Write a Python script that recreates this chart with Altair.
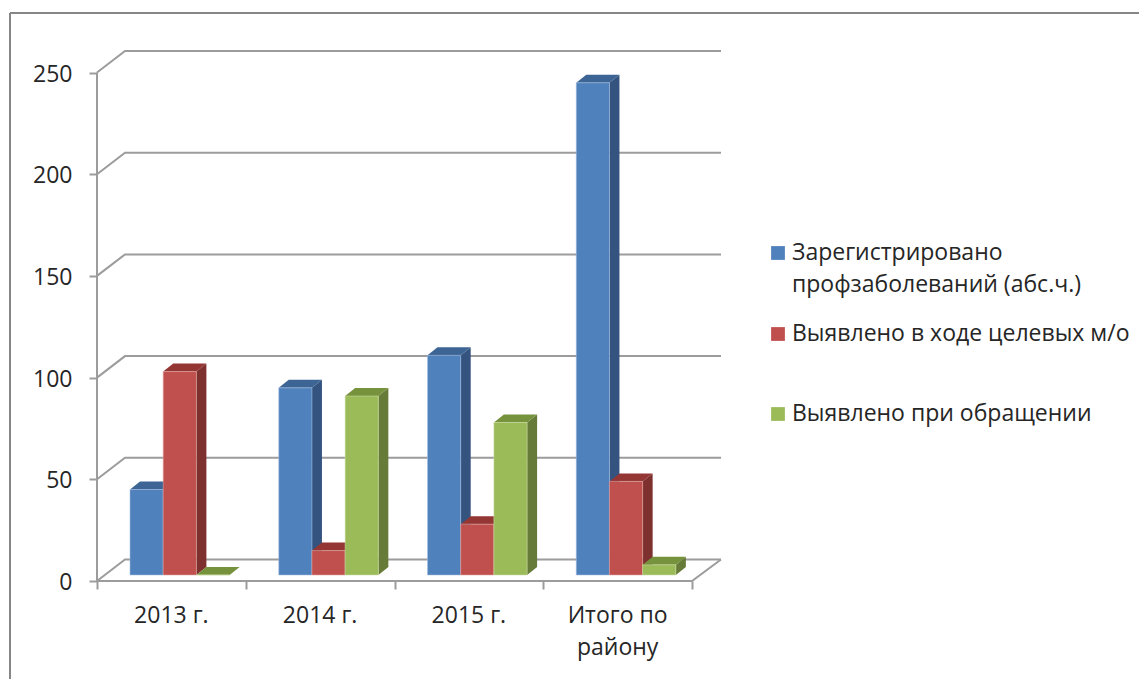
import altair as alt
import pandas as pd

categories = ["2013 г.", "2014 г.", "2015 г.", "Итого по\nрайону"]
series_names = ["Зарегистрировано\nпрофзаболеваний (абс.ч.)", "Выявлено в ходе целевых м/о", "Выявлено при обращении"]
registered = [42, 92, 108, 242]
targeted = [100, 12, 25, 46]
on_request = [0, 88, 75, 5]
y_ticks = [0, 50, 100, 150, 200, 250]
x_ticks = [0, 1, 2, 3, 4]
front = ["#4F81BD", "#C0504D", "#9BBB59"]
side = ["#34547F", "#7D302E", "#677B38"]
top = ["#3C6494", "#943634", "#76923C"]
edge = ["#A5C0E0", "#E0A8A6", "#CFE0A8"]
legend_y = [253, 334, 414]
text_font = "Open Sans"
text_size = 23
text_color = "#262626"
grid_color = "#9C9C9C"

# scale geometry
PLOT_W, PLOT_H = 624, 530
CAT_PX, VAL_PX = 148.75, 2.034
X_MAX = PLOT_W / CAT_PX
Y_MAX = PLOT_H / VAL_PX
ORIGIN_X, ORIGIN_Y = 97, 51
to_x = lambda px: px / CAT_PX
to_y = lambda px: px / VAL_PX

x_scale = alt.Scale(domain=[0, X_MAX], range=[0, PLOT_W], nice=False, zero=False)
y_scale = alt.Scale(domain=[0, Y_MAX], nice=False, zero=False)
x_axis = alt.Axis(values=x_ticks, labels=False, domain=False, grid=False, tickSize=8,
                  tickColor=grid_color, tickWidth=2, title=None)
y_axis = alt.Axis(values=y_ticks, domain=False, grid=False, tickSize=8, tickColor=grid_color,
                  tickWidth=2, labelPadding=17, labelFont=text_font, labelFontSize=text_size,
                  labelColor=text_color, labelOffset=1.5, title=None)
X = lambda f: alt.X(f, type="quantitative", scale=x_scale, axis=x_axis, stack=None)
Y = lambda f: alt.Y(f, type="quantitative", scale=y_scale, axis=y_axis, stack=None)

# walls and floor
WALL_DX, WALL_DY = to_x(28), to_y(21.5)
grid_rows = []
for v in y_ticks:
    grid_rows += [
        {"g": v, "o": 0, "x": 0, "y": v},
        {"g": v, "o": 1, "x": WALL_DX, "y": v + WALL_DY},
        {"g": v, "o": 2, "x": X_MAX, "y": v + WALL_DY},
    ]
grid_rows += [
    {"g": -1, "o": 0, "x": X_MAX, "y": WALL_DY},
    {"g": -1, "o": 1, "x": 4, "y": 0},
    {"g": -1, "o": 2, "x": 0, "y": 0},
]
grid = alt.Chart(pd.DataFrame(grid_rows)).mark_line(color=grid_color, strokeWidth=2).encode(
    x=X("x"), y=Y("y"), detail="g:N", order="o:Q",
)
y_line = alt.Chart(pd.DataFrame({"x": [0], "y": [0], "y2": [250]})).mark_rule(color=grid_color, strokeWidth=2).encode(
    x=X("x"), y=Y("y"), y2="y2:Q"
)

# bars
GAP = to_x(33)
BAR_W = to_x(33.2)
DX, DY = to_x(10), to_y(8)
BASE = to_y(6)
layers = [grid, y_line]
for s, vals in enumerate([registered, targeted, on_request]):
    rows = []
    for c, v in enumerate(vals):
        x0 = c + GAP + s * BAR_W
        rows.append({"x0": x0, "x1": x0 + BAR_W, "y0": BASE, "y1": BASE + v, "value": v})
    d = pd.DataFrame(rows)
    side_rows, top_rows = [], []
    for i, r in d.iterrows():
        side_rows += [
            {"b": i, "x": r.x1, "y": r.y1, "y2": r.y0},
            {"b": i, "x": r.x1 + DX, "y": r.y1 + DY, "y2": r.y0 + DY},
        ]
        top_rows += [
            {"b": i, "y": r.y1, "x": r.x0, "x2": r.x1},
            {"b": i, "y": r.y1 + DY, "x": r.x0 + DX, "x2": r.x1 + DX},
        ]
    layers.append(alt.Chart(pd.DataFrame(side_rows)).mark_area(color=side[s], orient="vertical").encode(
        x=X("x"), y=Y("y"), y2="y2:Q", detail="b:N"))
    layers.append(alt.Chart(pd.DataFrame(top_rows)).mark_area(color=top[s], orient="horizontal").encode(
        y=Y("y"), x=X("x"), x2="x2:Q", detail="b:N"))
    layers.append(alt.Chart(d).mark_rect(color=front[s], stroke=edge[s], strokeWidth=1, strokeOpacity=0.55).encode(
        x=X("x0"), x2="x1:Q", y=Y("y0"), y2="y1:Q"))

# category labels
cat_df = pd.DataFrame({"x": [i + 0.5 for i in range(4)], "label": categories})
layers.append(alt.Chart(cat_df).mark_text(
    font=text_font, fontSize=text_size, color=text_color, lineBreak="\n", lineHeight=32, baseline="middle"
).encode(x=X("x"), y=alt.value(616 - ORIGIN_Y), text="label:N"))

# frame
frame_color = "#868686"
layers.append(alt.Chart(pd.DataFrame({"a": [0]})).mark_rule(color=frame_color, strokeWidth=2).encode(
    x=alt.value(10 - ORIGIN_X), x2=alt.value(1147 - ORIGIN_X), y=alt.value(13 - ORIGIN_Y)))
layers.append(alt.Chart(pd.DataFrame({"a": [0]})).mark_rule(color=frame_color, strokeWidth=2).encode(
    x=alt.value(10 - ORIGIN_X), y=alt.value(13 - ORIGIN_Y), y2=alt.value(679 - ORIGIN_Y)))

# legend
for s, name in enumerate(series_names):
    layers.append(alt.Chart(pd.DataFrame({"a": [name]})).mark_square(color=front[s], size=190, opacity=1).encode(
        x=alt.value(778 - ORIGIN_X), y=alt.value(legend_y[s] - ORIGIN_Y)))
    layers.append(alt.Chart(pd.DataFrame({"a": [name]})).mark_text(
        font=text_font, fontSize=text_size, color=text_color, align="left", baseline="middle", lineBreak="\n", lineHeight=32,
    ).encode(
        x=alt.value(792 - ORIGIN_X),
        y=alt.value(legend_y[s] - ORIGIN_Y),
        text="a:N",
    ))

chart = alt.layer(*layers).properties(
    width=PLOT_W, height=PLOT_H, background="white",
    padding={"left": 89, "top": 43, "right": 418, "bottom": 98},
    autosize=alt.AutoSizeParams(type="none"),
).configure_view(stroke=None).configure_axis(labelFontWeight="normal")

chart.save("out.html", embed_options={"renderer": "svg", "actions": False})
